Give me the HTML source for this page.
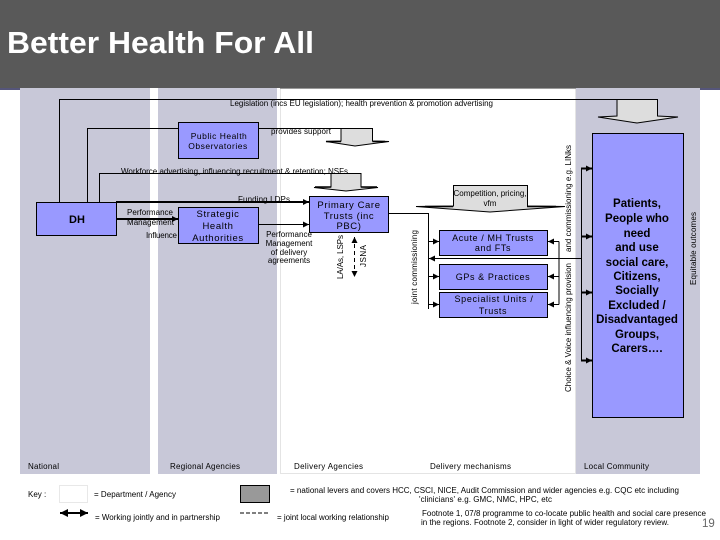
<!DOCTYPE html>
<html><head><meta charset="utf-8"><style>
html,body{margin:0;padding:0;background:#fff;width:720px;height:540px;overflow:hidden}
svg{display:block}
text{font-family:"Liberation Sans",sans-serif;fill:#000}
.t{font-size:8px}
.b{font-size:9.5px;letter-spacing:.6px}
.m{text-anchor:middle}
.box{fill:#9999ff;stroke:#000;stroke-width:1}
.ln{stroke:#000;stroke-width:1;fill:none}
.th{stroke:#000;stroke-width:2;fill:none}
.ar{fill:#ddd;stroke:#000;stroke-width:1}
.wg{stroke:#000;stroke-width:1.500;fill:none}
</style></head><body>
<svg width="720" height="540" viewBox="0 0 720 540" xmlns="http://www.w3.org/2000/svg">
<defs>
<marker id="a" viewBox="0 0 6 6" refX="6" refY="3" markerWidth="6" markerHeight="6" markerUnits="userSpaceOnUse" orient="auto-start-reverse"><path d="M0 0L6 3L0 6z" fill="#000"/></marker>
<marker id="k" viewBox="0 0 8 8" refX="8" refY="4" markerWidth="8" markerHeight="8" markerUnits="userSpaceOnUse" orient="auto-start-reverse"><path d="M0 0L8 4L0 8z" fill="#000"/></marker>
</defs>
<rect width="720" height="540" fill="#fff"/>
<rect x="0" y="88" width="20" height="2" fill="#55557a"/>
<rect x="700" y="88" width="20" height="2" fill="#55557a"/>
<rect x="20" y="88" width="130" height="386" fill="#c8c8d8"/>
<rect x="158" y="88" width="119" height="386" fill="#c8c8d8"/>
<rect x="280.500" y="88.500" width="295" height="385" fill="#fff" stroke="#e4e4e4"/>
<rect x="280" y="88" width="296" height="1" fill="#999"/>
<rect x="576" y="88" width="124" height="386" fill="#c8c8d8"/>
<rect x="0" y="0" width="720" height="88" fill="#595959"/>
<text x="7" y="53" style="font-size:31px;font-weight:700;fill:#fff" textLength="307" lengthAdjust="spacingAndGlyphs">Better Health For All</text>

<path class="ln" d="M59.500 202V99.500H617"/>
<path class="ar" d="M617 99.500H657.500V116L678 117L637 123L598 117L617 116Z"/>
<path class="ln" d="M87.500 202V128.500H178"/>
<path class="ln" d="M258 128.500H341"/>
<path class="ar" d="M341 128.500H372.500V141L389 141.500L355 146L326 141.500L341 141Z"/>
<path class="wg" d="M326 141.500H341M372.500 141.500H385"/>
<path class="ln" d="M99.500 202V173.500H331"/>
<path class="ar" d="M331 173.500H361V187L378 187.500L346 191L314 187.500L331 187Z"/>
<path class="wg" d="M315 187H331M361 187H377"/>
<path class="ar" d="M453.500 185.500H527.500V206L565 206.500L490 212L416 206.500L453.500 206Z"/>
<path class="wg" d="M425 206.500H453M527 206.500H556"/>

<rect class="box" x="36.500" y="202.500" width="80" height="33"/>
<rect class="box" x="178.500" y="122.500" width="80" height="36"/>
<rect class="box" x="178.500" y="207.500" width="80" height="36"/>
<rect class="box" x="309.500" y="196.500" width="79" height="36"/>
<rect class="box" x="439.500" y="230.500" width="108" height="25"/>
<rect class="box" x="439.500" y="264.500" width="108" height="25"/>
<rect class="box" x="439.500" y="292.500" width="108" height="25"/>
<rect class="box" x="592.500" y="133.500" width="91" height="284"/>

<path class="th" d="M116 202H309" marker-end="url(#a)"/>
<path class="th" d="M116 219H178" marker-end="url(#a)"/>
<path class="ln" d="M258 224.500H309" marker-end="url(#a)"/>
<path class="ln" d="M388 213.500H428.500V309"/>
<path class="ln" d="M428 241.500H439" marker-end="url(#a)"/>
<path class="ln" d="M428 276.500H439" marker-end="url(#a)"/>
<path class="ln" d="M428 304.500H439" marker-end="url(#a)"/>
<path class="ln" d="M559 241.500V304.500"/>
<path class="ln" d="M559 241.500H548" marker-end="url(#a)"/>
<path class="ln" d="M559 276.500H548" marker-end="url(#a)"/>
<path class="ln" d="M559 304.500H548" marker-end="url(#a)"/>
<path class="ln" d="M581.500 258.500H429" marker-end="url(#a)"/>
<path class="ln" d="M581.500 168V361"/>
<path class="th" d="M581 168.500H592" marker-end="url(#a)"/>
<path class="th" d="M581 236.500H592" marker-end="url(#a)"/>
<path class="th" d="M581 292.500H592" marker-end="url(#a)"/>
<path class="th" d="M581 360.500H592" marker-end="url(#a)"/>
<path class="ln" d="M354.500 237V277" stroke-dasharray="4 3" marker-start="url(#a)" marker-end="url(#a)"/>

<text class="t" x="230" y="106" textLength="263">Legislation (incs EU legislation); health prevention &amp; promotion advertising</text>
<text class="t" x="271" y="134" textLength="60">provides support</text>
<text class="t" x="121" y="174" textLength="227">Workforce advertising, influencing recruitment &amp; retention; NSFs</text>
<text class="t" x="238" y="202" textLength="52">Funding LDPs</text>
<text class="t" x="127" y="215" textLength="46">Performance</text>
<text class="t" x="127" y="225" textLength="47">Management</text>
<text class="t" x="146" y="238" textLength="31">Influence</text>
<text class="t m" x="289" y="237">Performance</text>
<text class="t m" x="289" y="246">Management</text>
<text class="t m" x="289" y="255">of delivery</text>
<text class="t m" x="289" y="263">agreements</text>
<text class="t m" x="490" y="196" textLength="73">Competition, pricing,</text>
<text class="t m" x="490" y="206">vfm</text>

<text class="m" x="77" y="223" style="font-size:11px;font-weight:700">DH</text>
<text class="t m" x="219" y="139" style="font-size:8.500px;letter-spacing:.5px">Public Health</text>
<text class="t m" x="218" y="149" style="font-size:8.500px;letter-spacing:.5px">Observatories</text>
<text class="b m" x="218" y="217">Strategic</text>
<text class="b m" x="218" y="229">Health</text>
<text class="b m" x="218" y="241">Authorities</text>
<text class="b m" x="349" y="208">Primary Care</text>
<text class="b m" x="349" y="219">Trusts (inc</text>
<text class="b m" x="349" y="229">PBC)</text>
<text class="t m" x="493" y="241" style="font-size:9px;letter-spacing:.6px">Acute / MH Trusts</text>
<text class="t m" x="493" y="251" style="font-size:9px;letter-spacing:.6px">and FTs</text>
<text class="t m" x="493" y="280" style="font-size:9px;letter-spacing:.6px">GPs &amp; Practices</text>
<text class="t m" x="494" y="302" style="font-size:9px;letter-spacing:.7px">Specialist Units /</text>
<text class="t m" x="493" y="314" style="font-size:9px;letter-spacing:.6px">Trusts</text>

<g style="font-size:11.500px;font-weight:700;text-anchor:middle">
<text x="637" y="207">Patients,</text>
<text x="637" y="222">People who</text>
<text x="637" y="237">need</text>
<text x="637" y="251">and use</text>
<text x="637" y="266">social care,</text>
<text x="637" y="280">Citizens,</text>
<text x="637" y="294">Socially</text>
<text x="637" y="309">Excluded /</text>
<text x="637" y="323">Disadvantaged</text>
<text x="637" y="338">Groups,</text>
<text x="637" y="352">Carers….</text>
</g>

<text class="t" transform="translate(343 279) rotate(-90)" textLength="44">LA/As, LSPs</text>
<text class="t" transform="translate(366 267) rotate(-90)" textLength="22">JSNA</text>
<text class="t" transform="translate(417 304) rotate(-90)" textLength="74">joint commissioning</text>
<text class="t" transform="translate(571 392) rotate(-90)" textLength="129">Choice &amp; Voice influencing provision</text>
<text class="t" transform="translate(571 252) rotate(-90)" textLength="107">and commissioning e.g. LINks</text>
<text class="t" transform="translate(696 285) rotate(-90)" textLength="73">Equitable outcomes</text>

<text class="t" x="28" y="469" textLength="31">National</text>
<text class="t" x="170" y="469" textLength="70">Regional Agencies</text>
<text class="t" x="294" y="469" textLength="69">Delivery Agencies</text>
<text class="t" x="430" y="469" textLength="81">Delivery mechanisms</text>
<text class="t" x="584" y="469" textLength="65">Local Community</text>

<text class="t" x="28" y="497">Key :</text>
<rect x="59.500" y="485.500" width="28" height="17" fill="#fff" stroke="#e8e8e8"/>
<text class="t" x="94" y="497" textLength="82">= Department / Agency</text>
<path class="th" d="M60 513H88" marker-start="url(#k)" marker-end="url(#k)"/>
<text class="t" x="95" y="520" textLength="125">= Working jointly and in partnership</text>
<rect x="240.500" y="485.500" width="29" height="17" fill="#999" stroke="#000"/>
<path class="ln" d="M240 513H270" stroke-dasharray="4 2"/>
<text class="t" x="277" y="520" textLength="112">= joint local working relationship</text>
<text class="t" x="290" y="493" textLength="389">= national levers and covers HCC, CSCI, NICE, Audit Commission and wider agencies e.g. CQC etc including</text>
<text class="t" x="419" y="502" textLength="133">'clinicians' e.g. GMC, NMC, HPC, etc</text>
<text class="t" x="422" y="516" textLength="284">Footnote 1, 07/8 programme to co-locate public health and social care presence</text>
<text class="t" x="421" y="525" textLength="248">in the regions. Footnote 2, consider in light of wider regulatory review.</text>
<text x="702" y="527" style="font-size:11.500px;fill:#666">19</text>
</svg>
</body></html>
